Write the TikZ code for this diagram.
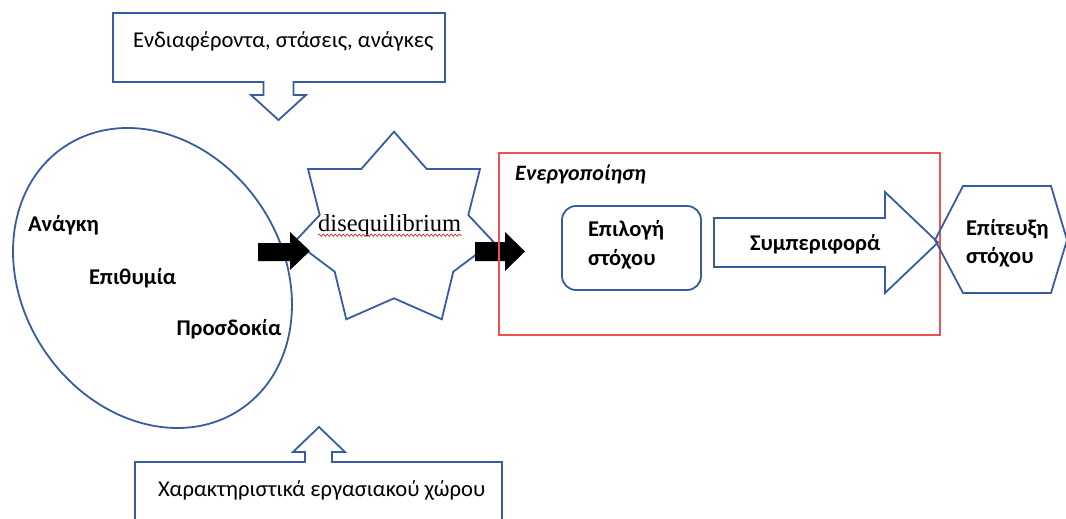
\documentclass[tikz,border=0pt]{standalone}
\usepackage{fontspec}
\setmainfont{Carlito}
\newfontfamily\wordserif{Liberation Serif}
\usetikzlibrary{shapes.geometric,decorations.pathmorphing}
\definecolor{shapeblue}{RGB}{56,92,160}
\definecolor{framered}{RGB}{240,80,80}
\definecolor{spellred}{RGB}{230,40,40}

\begin{document}
\begin{tikzpicture}[x=1pt,y=-1pt,
  outline/.style={draw=shapeblue, line width=1.8pt, line join=miter},
  blockarrow/.style={fill=black, draw=none},
  plainlabel/.style={inner sep=0pt, outer sep=0pt, anchor=base west,
    font=\fontsize{22.6}{27}\selectfont},
  boldlabel/.style={inner sep=0pt, outer sep=0pt, anchor=base west,
    font=\fontsize{22.5}{27}\selectfont\bfseries},
]
\clip (0,0) rectangle (1066,519);

% tilted ellipse holding the three motives
\node[outline, ellipse, inner sep=0pt, outer sep=0pt,
      minimum width=260.4pt, minimum height=316.2pt, rotate=33.9]
      (motives) at (152.5,278) {};
\node[boldlabel] (need)   at (28,231.7)  {Ανάγκη};
\node[boldlabel] (desire) at (89,284)    {Επιθυμία};
\node[boldlabel] (expect) at (176.5,335) {Προσδοκία};

% seven-point star
\draw[outline] (394,131.7) -- (426.7,169) -- (480,169) -- (468.3,215)
  -- (493.3,241.7) -- (453.3,271.7) -- (441.7,319.3) -- (394,298.3)
  -- (346.3,319.3) -- (334.7,271.7) -- (294.7,241.7) -- (319.7,215)
  -- (308,169) -- (361.3,169) -- cycle;
\node[inner sep=0pt, anchor=base west, font=\wordserif\fontsize{24.5}{28}\selectfont]
  (diseq) at (318,231.7) {disequilibrium};
\draw[spellred, line width=0.7pt, decorate,
      decoration={snake, amplitude=1.1pt, segment length=4pt}]
  (diseq.base west) ++(0,3.5) -- ++(144,0);

% solid black block arrows
\fill[blockarrow] (258,243) -- (290,243) -- (290,232) -- (310,251)
  -- (290,270) -- (290,261) -- (258,261) -- cycle;
\fill[blockarrow] (475,242) -- (505,242) -- (505,232) -- (525,251.5)
  -- (505,271) -- (505,261) -- (475,261) -- cycle;

% top callout with down arrow
\draw[outline] (113,13) -- (445,13) -- (445,82) -- (293.5,82) -- (293.5,95)
  -- (306,95) -- (278.5,120) -- (251,95) -- (263.5,95) -- (263.5,82)
  -- (113,82) -- cycle;
\node[plainlabel] (interests) at (133,48) {Ενδιαφέροντα, στάσεις, ανάγκες};

% bottom callout with up arrow
\draw[outline] (135,540) -- (135,462) -- (305,462) -- (305,452) -- (293,452)
  -- (319,427) -- (345,452) -- (332,452) -- (332,462) -- (502,462) -- (502,540);
\node[plainlabel] (workplace) at (158,496) {Χαρακτηριστικά εργασιακού χώρου};

% activation frame
\draw[framered, line width=1.2pt] (499,153) rectangle (940,335);
\node[inner sep=0pt, anchor=base west,
      font=\fontsize{22}{26}\selectfont\bfseries\itshape]
  (activation) at (515,180) {Ενεργοποίηση};

% goal choice
\draw[outline, rounded corners=14pt] (562,206) rectangle (701,290);
\node[boldlabel] (choice1) at (588,236.7) {Επιλογή};
\node[boldlabel] (choice2) at (588,265)   {στόχου};

% behaviour arrow
\draw[outline] (714,218) -- (885,218) -- (885,192) -- (938,242.5)
  -- (885,293) -- (885,267) -- (714,267) -- cycle;
\node[boldlabel] (behaviour) at (750,250) {Συμπεριφορά};

% goal attainment hexagon
\draw[outline] (935,240) -- (963,186) -- (1051,186) -- (1067,240)
  -- (1051,293) -- (963,293) -- cycle;
\node[boldlabel] (attain1) at (966,235)   {Επίτευξη};
\node[boldlabel] (attain2) at (966,263.3) {στόχου};
\end{tikzpicture}
\end{document}
